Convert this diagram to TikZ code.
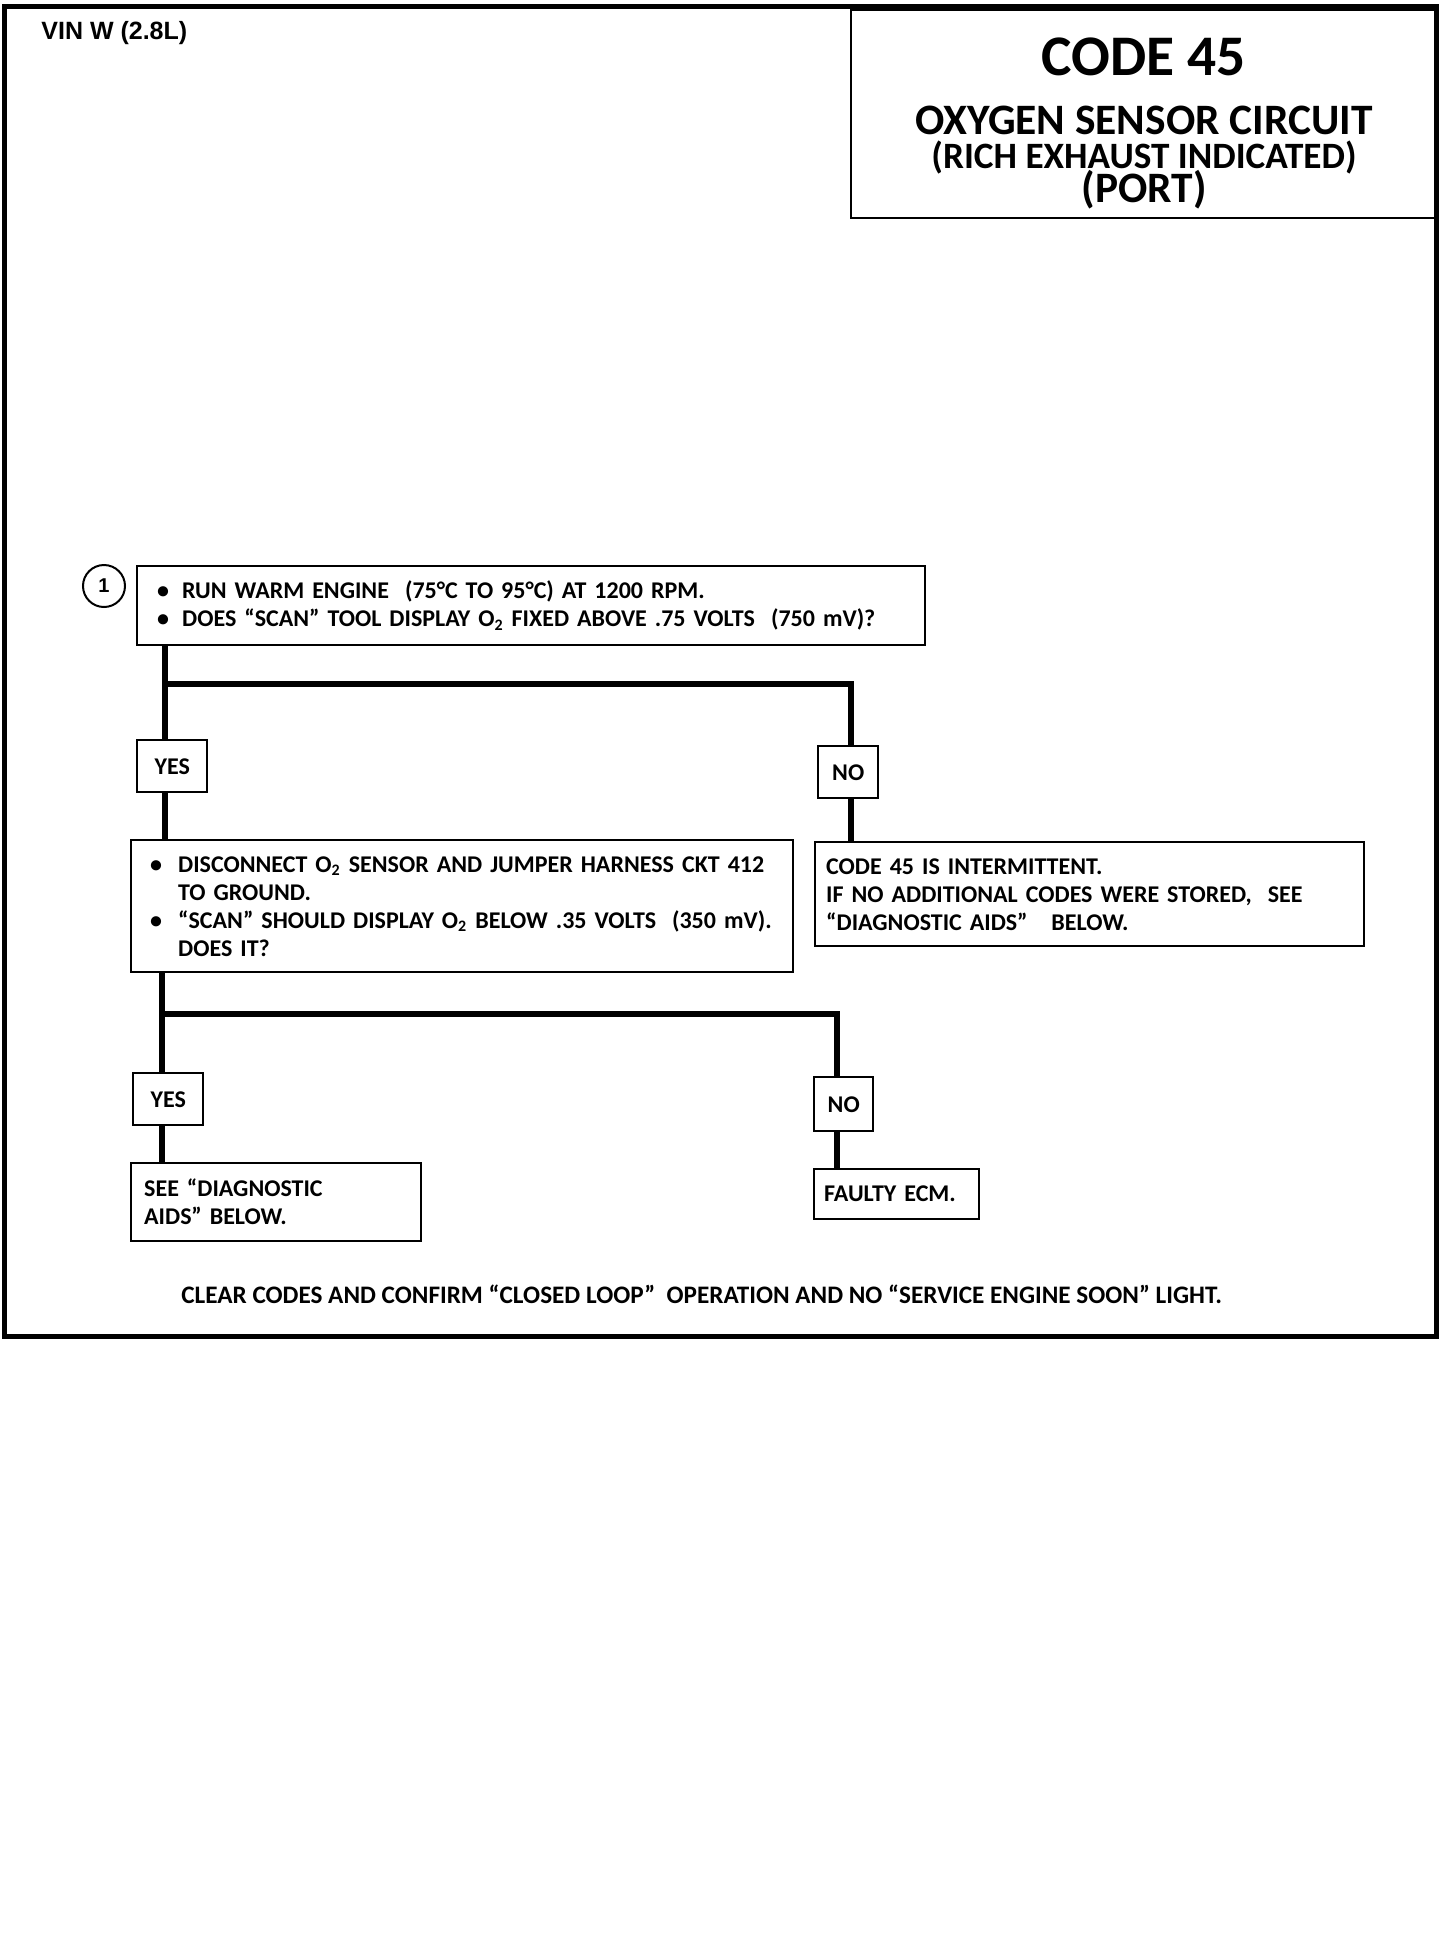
\documentclass[tikz,border=0pt]{standalone}
\usepackage{fontspec}
\setmainfont{Carlito}
\newfontfamily\arialfont{Liberation Sans}
\newcommand{\bul}[1]{\makebox[#1][l]{•}}
\begin{document}
\begin{tikzpicture}[x=0.5pt,y=-0.5pt,
  body/.style={font=\bfseries\fontsize{12}{14}\selectfont},
  tbox/.style={draw,line width=1.2pt,anchor=north west,align=left,inner ysep=0pt,body},
  lbl/.style={draw,line width=1.2pt,anchor=north west,inner sep=0pt,body},
  ttl/.style={anchor=base,inner sep=0pt,font=\bfseries},
  conn/.style={line width=3pt,line join=miter}]
\useasboundingbox (0,0) rectangle (1456,1950);
% outer frame
\draw[line width=2.5pt] (4,6) rectangle (1436,1336);
% header
\node[anchor=west,inner sep=0pt,font=\arialfont\bfseries\fontsize{12.5}{14}\selectfont] (vin) at (41,33) {VIN W (2.8L)};
\node[draw,line width=1.2pt,anchor=north west,minimum width=293pt,minimum height=104pt,inner sep=0pt] (titlebox) at (850,9) {};
\node[ttl,font=\bfseries\fontsize{28.7}{30}\selectfont] (code) at (1144,75) {CODE 45};
\node[anchor=north,inner sep=0pt,align=center,
      font={\bfseries\fontsize{18.6}{17}\selectfont\lineskiplimit=-30pt\lineskip=0pt}] (sub) at (1144,106)
  {{\fontsize{21.7}{17}\selectfont OXYGEN SENSOR CIRCUIT}\\
   (RICH EXHAUST INDICATED)\\
   {\fontsize{21.7}{17}\selectfont (PORT)}};
% step 1
\node[circle,draw,line width=1pt,minimum size=21pt,inner sep=0pt,font=\arialfont\bfseries\fontsize{10}{12}\selectfont] (c1) at (104,586) {1};
\node[tbox,inner xsep=10pt,text width=373.75pt,minimum height=39.5pt] (b1) at (136,565)
  {\bul{12.5pt}RUN WARM ENGINE\ \ (75°C TO 95°C) AT 1200 RPM.\\
   \bul{12.5pt}DOES “SCAN” TOOL DISPLAY O\textsubscript{2} FIXED ABOVE .75 VOLTS\ \ (750 mV)?};
\node[lbl,minimum width=35pt,minimum height=26pt] (yes1) at (136,739) {YES};
\node[lbl,minimum width=30pt,minimum height=26pt] (no1) at (817,745) {NO};
\node[tbox,inner xsep=9.5pt,text width=312pt,minimum height=66pt] (b2) at (130,839)
  {\bul{14pt}DISCONNECT O\textsubscript{2} SENSOR AND JUMPER HARNESS CKT 412\\
   \hspace*{14pt}TO GROUND.\\
   \bul{14pt}“SCAN” SHOULD DISPLAY O\textsubscript{2} BELOW .35 VOLTS\ \ (350 mV).\\
   \hspace*{14pt}DOES IT?};
\node[tbox,inner xsep=5.5pt,text width=263.5pt,minimum height=52pt] (b3) at (814,841)
  {CODE 45 IS INTERMITTENT.\\
   IF NO ADDITIONAL CODES WERE STORED,\ \ SEE\\
   “DIAGNOSTIC AIDS”\ \ \ BELOW.};
\node[lbl,minimum width=35pt,minimum height=26pt] (yes2) at (132,1072) {YES};
\node[lbl,minimum width=29.5pt,minimum height=27pt] (no2) at (813,1076) {NO};
\node[tbox,inner xsep=6.5pt,text width=132pt,minimum height=39pt] (b4) at (130,1162)
  {SEE “DIAGNOSTIC\\ AIDS” BELOW.};
\node[tbox,inner xsep=5pt,text width=72.5pt,minimum height=25pt] (b5) at (813,1168)
  {FAULTY ECM.};
\node[anchor=west,inner sep=0pt,font=\bfseries\fontsize{12.6}{14}\selectfont] (clear) at (181,1294)
  {CLEAR CODES AND CONFIRM “CLOSED LOOP”\ \ OPERATION AND NO “SERVICE ENGINE SOON” LIGHT.};
% connectors
\coordinate (j1) at (165,684);
\coordinate (j1r) at (851,684);
\coordinate (j2) at (162,1014);
\coordinate (j2r) at (837,1014);
\draw[conn] (b1.south -| j1) -- (yes1.north -| j1);
\draw[conn] (j1) -- (j1r) -- (no1.north -| j1r);
\draw[conn] (yes1.south -| j1) -- (b2.north -| j1);
\draw[conn] (no1.south -| j1r) -- (b3.north -| j1r);
\draw[conn] (b2.south -| j2) -- (yes2.north -| j2);
\draw[conn] (j2) -- (j2r) -- (no2.north -| j2r);
\draw[conn] (yes2.south -| j2) -- (b4.north -| j2);
\draw[conn] (no2.south -| j2r) -- (b5.north -| j2r);
\end{tikzpicture}
\end{document}
